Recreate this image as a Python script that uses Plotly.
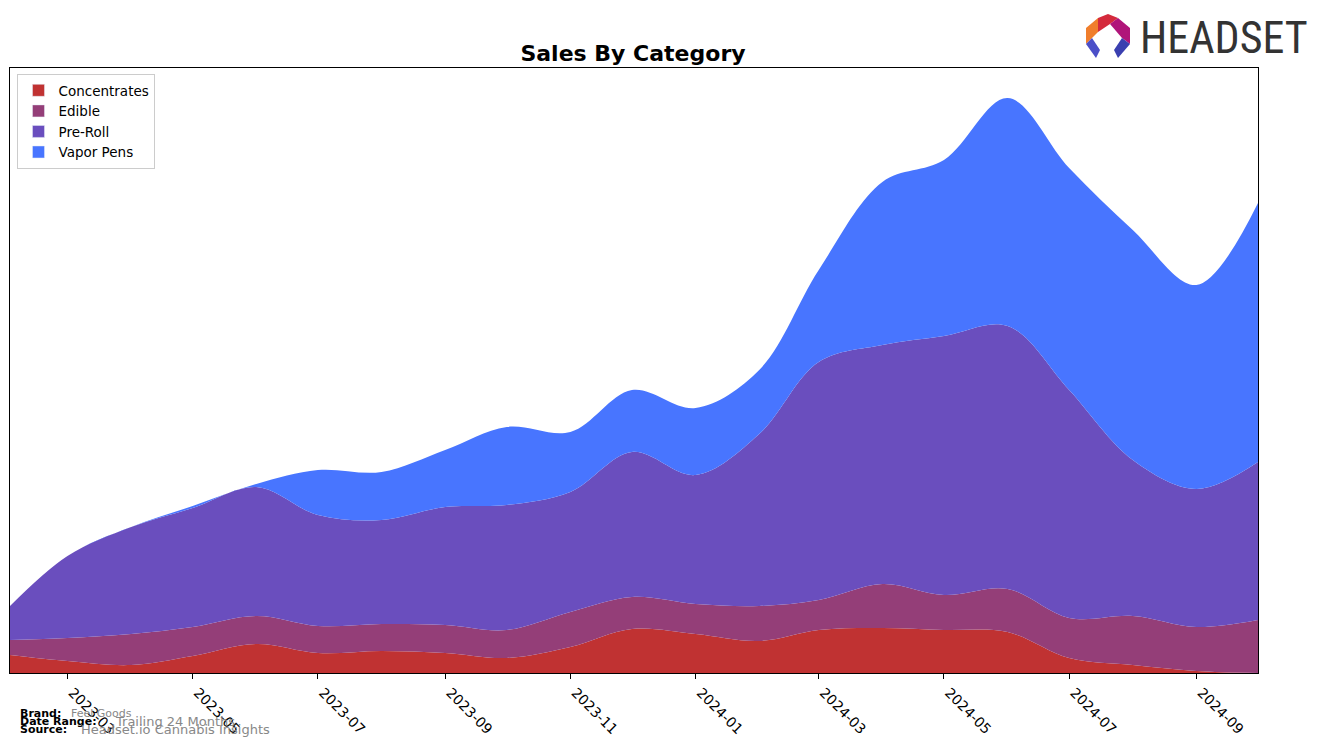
import plotly.graph_objects as go

months = ["2023-02-01", "2023-03-01", "2023-04-01", "2023-05-01", "2023-06-01", "2023-07-01",
          "2023-08-01", "2023-09-01", "2023-10-01", "2023-11-01", "2023-12-01", "2024-01-01",
          "2024-02-01", "2024-03-01", "2024-04-01", "2024-05-01", "2024-06-01", "2024-07-01",
          "2024-08-01", "2024-09-01", "2024-10-01"]

concentrates = [18, 12, 8, 17, 29, 20, 22, 20, 15, 26, 44, 39, 32, 43, 45, 43, 41, 15, 8, 2, 0]
edible = [15, 23, 31, 29, 28, 27, 27, 28, 28, 35, 32, 30, 35, 30, 44, 35, 43, 40, 49, 44, 53]
pre_roll = [34, 82, 107, 119, 129, 111, 104, 118, 125, 120, 145, 129, 172, 238, 239, 259, 263, 228, 156, 138, 158]
vapor_pens = [0, 0, 0, 2, 3, 45, 48, 57, 78, 60, 62, 67, 64, 92, 163, 176, 228, 222, 230, 204, 259]

tick_vals = ["2023-03-01", "2023-05-01", "2023-07-01", "2023-09-01", "2023-11-01", "2024-01-01",
             "2024-03-01", "2024-05-01", "2024-07-01", "2024-09-01"]
tick_text = ["2023-03", "2023-05", "2023-07", "2023-09", "2023-11", "2024-01",
             "2024-03", "2024-05", "2024-07", "2024-09"]

series = [("Concentrates", concentrates, "#C03232"),
          ("Edible", edible, "#943E78"),
          ("Pre-Roll", pre_roll, "#6A4EBE"),
          ("Vapor Pens", vapor_pens, "#4875FF")]

W, H = 1322, 746
L, R, T, B = 10, 1258, 68, 673

fig = go.Figure()
for name, vals, col in series:
    fig.add_trace(go.Scatter(
        x=months, y=vals, name=name, mode="lines", stackgroup="one", showlegend=False,
        line=dict(width=0, shape="spline", smoothing=1.0, color=col),
        fillcolor=col, hoverinfo="x+y+name",
    ))
# legend patches
for name, vals, col in series:
    fig.add_trace(go.Bar(x=[None], y=[None], name=name, marker=dict(color=col), showlegend=True))

fig.update_layout(
    width=W, height=H,
    margin=dict(l=L, r=W - R, t=T, b=H - B, autoexpand=False),
    paper_bgcolor="white", plot_bgcolor="white",
    font=dict(family="DejaVu Sans", size=13, color="black"),
    title=dict(text="<b>Sales By Category</b>", x=(633) / W, xanchor="center", y=1 - 53 / H, yanchor="middle",
               font=dict(size=22, family="DejaVu Sans", color="black")),
    showlegend=True,
    legend=dict(x=0.006, y=0.99, xanchor="left", yanchor="top", bgcolor="white",
                bordercolor="#cccccc", borderwidth=1, font=dict(size=13.5, family="DejaVu Sans"),
                traceorder="normal", tracegroupgap=0),
    xaxis=dict(type="date", range=["2023-02-01", "2024-10-01"], tickvals=tick_vals, ticktext=tick_text,
               tickangle=45, ticks="outside", ticklen=5, tickcolor="black", showgrid=False,
               showline=True, linecolor="black", linewidth=1, mirror=True, zeroline=False,
               tickfont=dict(size=14, family="DejaVu Sans"), automargin=False, ticklabelshift=5),
    yaxis=dict(range=[0, 605], showticklabels=False, ticks="", showgrid=False, showline=True,
               linecolor="black", linewidth=1, mirror=True, zeroline=False, automargin=False),
)


def px2paper(px, py):
    return (px - L) / (R - L), (B - py) / (B - T)


footer = [
    ("<b>Brand:</b>", 18, 713, 11, "black"),
    ("<b>Date Range:</b>", 18, 721, 11, "black"),
    ("<b>Source:</b>", 18, 729, 11, "black"),
    ("Feel Goods", 69, 713, 11, "#888888"),
    ("Trailing 24 Months", 113, 721, 13, "#888888"),
    ("Headset.io Cannabis Insights", 79, 729, 13, "#888888"),
]
for txt, px, py, fs, col in footer:
    fx, fy = px2paper(px, py)
    fig.add_annotation(text=txt, x=fx, y=fy, xref="paper", yref="paper",
                       xanchor="left", yanchor="middle", showarrow=False,
                       font=dict(size=fs, color=col, family="DejaVu Sans"))

# Logo
fx, fy = px2paper(1138, 38)
fig.add_annotation(text="HEADSET", x=fx, y=fy, xref="paper", yref="paper",
                   xanchor="left", yanchor="middle", showarrow=False,
                   font=dict(size=44, color="#333333", family="Roboto Condensed, Roboto, DejaVu Sans Condensed"))
logo_polys = [
    ([(1086, 28), (1098, 18), (1098, 32), (1092, 38), (1086, 44)], "#F07E2C"),
    ([(1098, 18), (1108, 14), (1118, 18), (1110, 24), (1098, 32)], "#D42A3C"),
    ([(1118, 18), (1130, 28), (1130, 44), (1122, 38), (1110, 24)], "#B0157A"),
    ([(1086, 44), (1092, 38), (1100, 50), (1096, 58)], "#4B4FC8"),
    ([(1130, 44), (1122, 38), (1114, 50), (1118, 58)], "#3A3FB0"),
]
for pts, col in logo_polys:
    conv = []
    for x, y in pts:
        a, b = px2paper(x, y)
        conv.append(f"{a:.5f},{b:.5f}")
    path = "M " + " L ".join(conv) + " Z"
    fig.add_shape(type="path", path=path, xref="paper", yref="paper", fillcolor=col, line=dict(width=0))

fig.write_html("out.html", config={"displayModeBar": False},
               post_script="document.body.style.margin='0px';document.body.style.overflow='hidden';")
